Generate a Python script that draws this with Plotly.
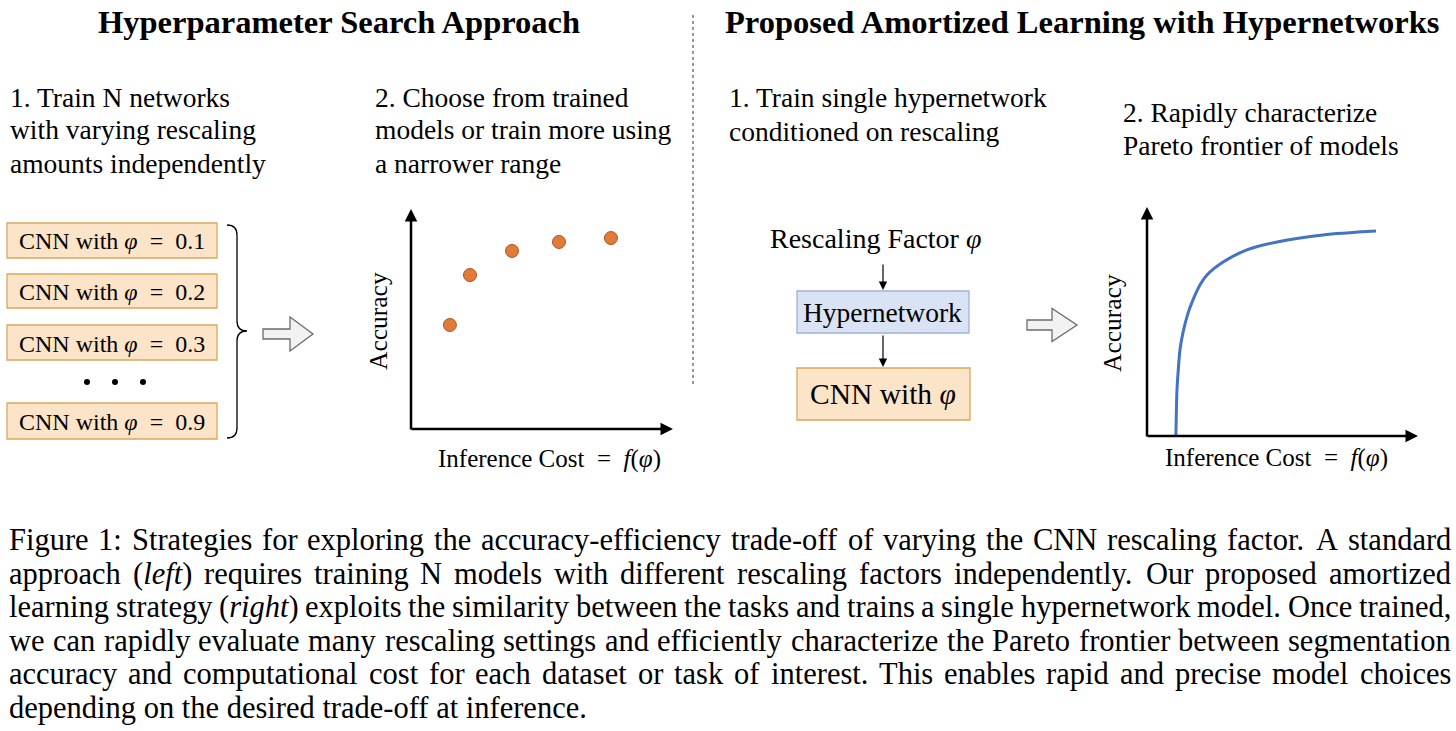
import glob
import re
import struct

import plotly.graph_objects as go

W, H = 1456, 731

# ---------------- data ----------------
scatter_cost = [1.49, 2.26, 3.87, 5.67, 7.66]
scatter_acc = [4.75, 7.03, 8.13, 8.54, 8.72]

frontier_cost = [1.07, 1.11, 1.15, 1.22, 1.33, 1.52, 1.70, 1.96, 2.22, 2.82, 3.70, 4.82, 6.52, 8.48]
frontier_acc = [0.00, 2.02, 2.76, 3.77, 4.52, 5.39, 5.96, 6.62, 7.06, 7.63, 8.16, 8.51, 8.82, 8.99]

SP = "\u2002"
box_labels = [f"CNN with <i>φ</i>{SP}={SP}0.1", f"CNN with <i>φ</i>{SP}={SP}0.2",
              f"CNN with <i>φ</i>{SP}={SP}0.3", f"CNN with <i>φ</i>{SP}={SP}0.9"]

heading_left = "Hyperparameter Search Approach"
heading_right = "Proposed Amortized Learning with Hypernetworks"
step1_left = ["1. Train N networks", "with varying rescaling", "amounts independently"]
step2_left = ["2. Choose from trained", "models or train more using", "a narrower range"]
step1_right = ["1. Train single hypernetwork", "conditioned on rescaling"]
step2_right = ["2. Rapidly characterize", "Pareto frontier of models"]
axis_y_label = "Accuracy"
axis_x_label = f"Inference Cost{SP}={SP}<i>f</i>(<i>φ</i>)"

caption_lines = [
    "Figure 1: Strategies for exploring the accuracy-efficiency trade-off of varying the CNN rescaling factor. A standard",
    "approach (<i>left</i>) requires training N models with different rescaling factors independently. Our proposed amortized",
    "learning strategy (<i>right</i>) exploits the similarity between the tasks and trains a single hypernetwork model. Once trained,",
    "we can rapidly evaluate many rescaling settings and efficiently characterize the Pareto frontier between segmentation",
    "accuracy and computational cost for each dataset or task of interest. This enables rapid and precise model choices",
    "depending on the desired trade-off at inference.",
]

FONT = "Liberation Serif"


# ---------- minimal TrueType advance-width reader (for justified caption) ----------
def load_width_fn(pattern):
    files = glob.glob(pattern, recursive=True)
    if not files:
        return None
    try:
        data = open(files[0], "rb").read()
        num = struct.unpack(">H", data[4:6])[0]
        tables = {}
        for i in range(num):
            tag, _cs, off, ln = struct.unpack(">4sIII", data[12 + 16 * i:28 + 16 * i])
            tables[tag.decode("latin-1")] = off
        head = tables["head"]
        upem = struct.unpack(">H", data[head + 18:head + 20])[0]
        hhea = tables["hhea"]
        nhm = struct.unpack(">H", data[hhea + 34:hhea + 36])[0]
        hm = tables["hmtx"]
        adv = [struct.unpack(">H", data[hm + 4 * i:hm + 4 * i + 2])[0] for i in range(nhm)]
        cm = tables["cmap"]
        nsub = struct.unpack(">H", data[cm + 2:cm + 4])[0]
        cmap = {}
        for i in range(nsub):
            pid, eid, off = struct.unpack(">HHI", data[cm + 4 + 8 * i:cm + 12 + 8 * i])
            sub = cm + off
            fmt = struct.unpack(">H", data[sub:sub + 2])[0]
            if fmt != 4 or pid != 3:
                continue
            segx2 = struct.unpack(">H", data[sub + 6:sub + 8])[0]
            seg = segx2 // 2
            ends = struct.unpack(f">{seg}H", data[sub + 14:sub + 14 + segx2])
            starts = struct.unpack(f">{seg}H", data[sub + 16 + segx2:sub + 16 + 2 * segx2])
            deltas = struct.unpack(f">{seg}h", data[sub + 16 + 2 * segx2:sub + 16 + 3 * segx2])
            rpos = sub + 16 + 3 * segx2
            roffs = struct.unpack(f">{seg}H", data[rpos:rpos + segx2])
            for s in range(seg):
                if starts[s] > 0x2FFF:
                    continue
                for c in range(starts[s], min(ends[s], 0x2FFF) + 1):
                    if roffs[s] == 0:
                        g = (c + deltas[s]) & 0xFFFF
                    else:
                        gi = rpos + 2 * s + roffs[s] + 2 * (c - starts[s])
                        g = struct.unpack(">H", data[gi:gi + 2])[0]
                        if g:
                            g = (g + deltas[s]) & 0xFFFF
                    cmap[c] = g
            break
        if not cmap:
            return None

        def width(text, size):
            tot = 0
            for ch in text:
                g = cmap.get(ord(ch), 0)
                tot += adv[min(g, nhm - 1)]
            return tot * size / upem
        return width
    except Exception:
        return None


width_regular = load_width_fn("/usr/share/fonts/**/LiberationSerif-Regular.ttf")
width_italic = load_width_fn("/usr/share/fonts/**/LiberationSerif-Italic.ttf") or width_regular


def X(px):
    return px / W


def Y(py):
    return 1 - py / H


def txt(x, y, s, size, anchor="left", angle=0, color="black"):
    return dict(x=X(x), y=Y(y), xref="paper", yref="paper", text=s, showarrow=False,
                xanchor=anchor, yanchor="middle", textangle=angle,
                font=dict(family=FONT, size=size, color=color))


def arrow(x0, y0, x1, y1, width=2.5, size=1.0):
    return dict(x=X(x1), y=Y(y1), xref="paper", yref="paper", ax=x0 - x1, ay=y0 - y1,
                axref="pixel", ayref="pixel", showarrow=True, arrowhead=2,
                arrowwidth=width, arrowsize=size, arrowcolor="black", text="")


def path(points, close=False):
    s = "M " + " L ".join(f"{X(a):.5f},{Y(b):.5f}" for a, b in points)
    return s + (" Z" if close else "")


def word_width(word, size):
    total = 0.0
    for part in re.split(r"(<i>.*?</i>)", word):
        if part.startswith("<i>"):
            total += width_italic(part[3:-4], size)
        elif part:
            total += width_regular(part, size)
    return total


fig = go.Figure()
fig.add_trace(go.Scatter(x=scatter_cost, y=scatter_acc, mode="markers",
                         marker=dict(size=13, color="#E07B39", line=dict(color="#B0561E", width=1)),
                         xaxis="x", yaxis="y", showlegend=False, hoverinfo="skip"))
fig.add_trace(go.Scatter(x=frontier_cost, y=frontier_acc, mode="lines",
                         line=dict(color="#4472C4", width=3, shape="spline", smoothing=0.8),
                         xaxis="x2", yaxis="y2", showlegend=False, hoverinfo="skip"))

ax_common = dict(visible=False, range=[0, 10], fixedrange=True)
fig.update_layout(
    width=W, height=H, margin=dict(l=0, r=0, t=0, b=0),
    paper_bgcolor="white", plot_bgcolor="rgba(0,0,0,0)",
    xaxis=dict(domain=[X(411), X(672)], anchor="y", **ax_common),
    yaxis=dict(domain=[Y(429), Y(210)], anchor="x", **ax_common),
    xaxis2=dict(domain=[X(1147), X(1417)], anchor="y2", **ax_common),
    yaxis2=dict(domain=[Y(436), Y(208)], anchor="x2", **ax_common),
    showlegend=False,
)

shapes = []
ann = []

# headings
ann.append(txt(339, 22, f"<b>{heading_left}</b>", 32.5, "center"))
ann.append(txt(1082, 22, f"<b>{heading_right}</b>", 32.5, "center"))

# divider
shapes.append(dict(type="line", xref="paper", yref="paper", x0=X(693), x1=X(693), y0=Y(15), y1=Y(385),
                   line=dict(color="#777777", width=1.5, dash="dot")))

# step texts
STEP = 27.5
for i, s in enumerate(step1_left):
    ann.append(txt(8, 97 + 33 * i, s, STEP))
for i, s in enumerate(step2_left):
    ann.append(txt(373, 97 + 33 * i, s, STEP))
for i, s in enumerate(step1_right):
    ann.append(txt(727, 98 + 33 * i, s, STEP))
for i, s in enumerate(step2_right):
    ann.append(txt(1121, 112 + 33 * i, s, STEP))

# left boxes
box_y = [(223, 258), (274, 308), (325, 360), (403, 439)]
for (y0, y1), lab in zip(box_y, box_labels):
    shapes.append(dict(type="rect", xref="paper", yref="paper", x0=X(7), x1=X(217), y0=Y(y1), y1=Y(y0),
                       fillcolor="#FCE4C8", line=dict(color="#D9A85B", width=1.3), layer="below"))
    ann.append(txt(112, (y0 + y1) / 2 + 1, lab, 24, "center"))
# dots
for dx in (87, 115, 143):
    shapes.append(dict(type="circle", xref="paper", yref="paper", x0=X(dx - 3), x1=X(dx + 3),
                       y0=Y(385), y1=Y(379), fillcolor="black", line=dict(width=0)))

# brace
bx0, bx1, btip = 227, 237, 247
yt, ym, yb = 225, 331, 438
brace_path = "M {},{} Q {},{} {},{} L {},{} Q {},{} {},{} Q {},{} {},{} L {},{} Q {},{} {},{}".format(
    X(bx0), Y(yt), X(bx1), Y(yt), X(bx1), Y(yt + 10),
    X(bx1), Y(ym - 10), X(bx1), Y(ym), X(btip), Y(ym),
    X(bx1), Y(ym), X(bx1), Y(ym + 10),
    X(bx1), Y(yb - 10), X(bx1), Y(yb), X(bx0), Y(yb))
shapes.append(dict(type="path", xref="paper", yref="paper", path=brace_path,
                   line=dict(color="black", width=1.3)))


# hollow block arrows
def block_arrow(x0, xm, x1, yc, bh, hh):
    pts = [(x0, yc - bh), (xm, yc - bh), (xm, yc - hh), (x1, yc), (xm, yc + hh), (xm, yc + bh), (x0, yc + bh)]
    return dict(type="path", xref="paper", yref="paper", path=path(pts, True),
                fillcolor="#F2F2F2", line=dict(color="#6B6B6B", width=1.3))


shapes.append(block_arrow(263, 290, 313, 334, 5, 17))
shapes.append(block_arrow(1027, 1052, 1077, 325, 5, 16.5))

# left plot axes
ann.append(arrow(411, 431, 411, 209))
ann.append(arrow(410, 429, 673, 429))
ann.append(txt(378, 321, axis_y_label, 25.5, "center", angle=-90))
ann.append(txt(549, 459, axis_x_label, 25, "center"))

# right diagram
ann.append(txt(875, 238, "Rescaling Factor <i>φ</i>", 28, "center"))
ann.append(arrow(883, 263, 883, 290, 1.2, 1.4))
shapes.append(dict(type="rect", xref="paper", yref="paper", x0=X(797), x1=X(969), y0=Y(333), y1=Y(291),
                   fillcolor="#DAE3F3", line=dict(color="#9DB3DD", width=1.3), layer="below"))
ann.append(txt(883, 312, "Hypernetwork", 27.5, "center"))
ann.append(arrow(883, 334, 883, 367, 1.2, 1.4))
shapes.append(dict(type="rect", xref="paper", yref="paper", x0=X(797), x1=X(970), y0=Y(420), y1=Y(368),
                   fillcolor="#FCE4C8", line=dict(color="#D9A85B", width=1.3), layer="below"))
ann.append(txt(883, 394, "CNN with <i>φ</i>", 29.5, "center"))

# right plot axes
ann.append(arrow(1147, 438, 1147, 207))
ann.append(arrow(1146, 436, 1418, 436))
ann.append(txt(1112, 323, axis_y_label, 25.5, "center", angle=-90))
ann.append(txt(1276, 458, axis_x_label, 25, "center"))

# caption: justified between x=7 and x=1449
cap_y = [540, 574, 607, 641, 674, 708]
CAP = 30.5
CAP_L, CAP_R = 7, 1449
last = len(caption_lines) - 1
for k, (line, yy) in enumerate(zip(caption_lines, cap_y)):
    if k == last or width_regular is None:
        ann.append(txt(CAP_L, yy, line, CAP, "left"))
        continue
    words = line.split(" ")
    widths = [word_width(w, CAP) for w in words]
    gap = (CAP_R - CAP_L - sum(widths)) / (len(words) - 1)
    xcur = CAP_L
    for w, wd in zip(words, widths):
        ann.append(txt(xcur, yy, w, CAP, "left"))
        xcur += wd + gap

fig.update_layout(shapes=shapes, annotations=ann)
fig.write_html("out.html", config={"displayModeBar": False},
               post_script="document.body.style.margin='0';document.body.style.overflow='hidden';")
